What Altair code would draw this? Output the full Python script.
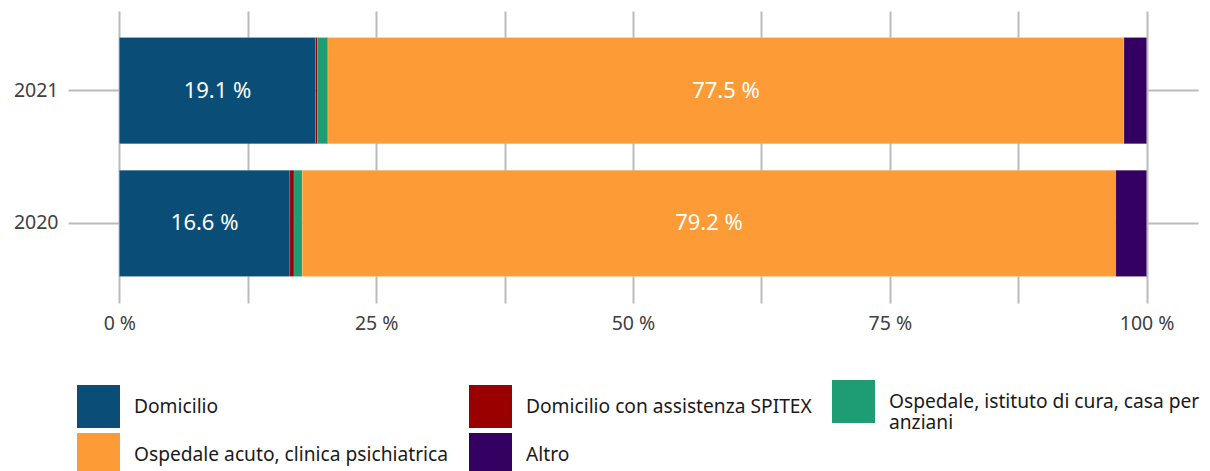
import altair as alt
import pandas as pd

years = ["2021", "2020"]
categories = [
    "Domicilio",
    "Domicilio con assistenza SPITEX",
    "Ospedale, istituto di cura, casa per anziani",
    "Ospedale acuto, clinica psichiatrica",
    "Altro",
]
colors = ["#0a4e78", "#9a0000", "#1e9c74", "#fd9b36", "#340062"]
values_2021 = [19.1, 0.2, 1.0, 77.5, 2.2]
values_2020 = [16.6, 0.4, 0.8, 79.2, 3.0]
tick_values = [0, 12.5, 25, 37.5, 50, 62.5, 75, 87.5, 100]

rows = []
for y, vals in zip(years, [values_2021, values_2020]):
    for i, (c, v) in enumerate(zip(categories, vals)):
        rows.append({"year": y, "cat": c, "value": v, "order": i})
df = pd.DataFrame(rows)

FONT = "Noto Sans"

base = alt.Chart(df).transform_stack(
    stack="value", groupby=["year"], as_=["start", "end"],
    sort=[alt.SortField("order", order="ascending")],
)

y_enc = alt.Y(
    "year:N", sort=years, title=None,
    scale=alt.Scale(paddingInner=0.2, paddingOuter=0.2),
    axis=alt.Axis(grid=True, bandPosition=0.5, gridColor="#bbbbbb", gridWidth=2,
                  domain=False, ticks=False, labelFontSize=19.5, labelColor="#404040",
                  labelFont=FONT, labelPadding=10),
)

bars = base.mark_bar(stroke="white", strokeWidth=0.5, strokeOpacity=0.3).encode(
    x=alt.X(
        "start:Q", title=None,
        scale=alt.Scale(domain=[-5, 105], nice=False, zero=False),
        axis=alt.Axis(values=tick_values, grid=True, gridColor="#bbbbbb", gridWidth=2,
                      domain=False, ticks=False, labelFontSize=19.5, labelColor="#404040",
                      labelFont=FONT, labelPadding=11,
                      labelExpr="datum.value % 25 == 0 ? datum.value + ' %' : ''"),
    ),
    x2="end:Q",
    y=y_enc,
    color=alt.Color(
        "cat:N", title=None,
        scale=alt.Scale(domain=categories, range=colors),
        legend=alt.Legend(
            orient="none", legendX=9, legendY=369, direction="horizontal",
            columns=3, symbolType="square", symbolSize=1849, symbolStrokeWidth=0,
            rowPadding=0, columnPadding=20, labelOffset=14, labelFontSize=19.2,
            labelFont=FONT, labelColor="#1a1a1a", labelLimit=400, padding=0,
            labelExpr="datum.label == 'Ospedale, istituto di cura, casa per anziani' ? ['Ospedale, istituto di cura, casa per', 'anziani'] : datum.label",
        ),
    ),
    order=alt.Order("order:Q"),
)

labels = base.transform_filter("datum.value > 10").transform_calculate(
    mid="(datum.start + datum.end) / 2",
    txt="format(datum.value, '.1f') + ' %'",
).mark_text(color="white", fontSize=22, font=FONT).encode(
    x="mid:Q",
    y=alt.Y("year:N", sort=years),
    text="txt:N",
)

chart = alt.layer(bars, labels).properties(
    width=1130, height=292,
    autosize=alt.AutoSizeParams(type="none"),
    padding={"left": 60, "top": 3, "right": 4, "bottom": 185},
).configure_view(stroke=None)

chart.save("out.html", embed_options={"renderer": "svg", "actions": False})
